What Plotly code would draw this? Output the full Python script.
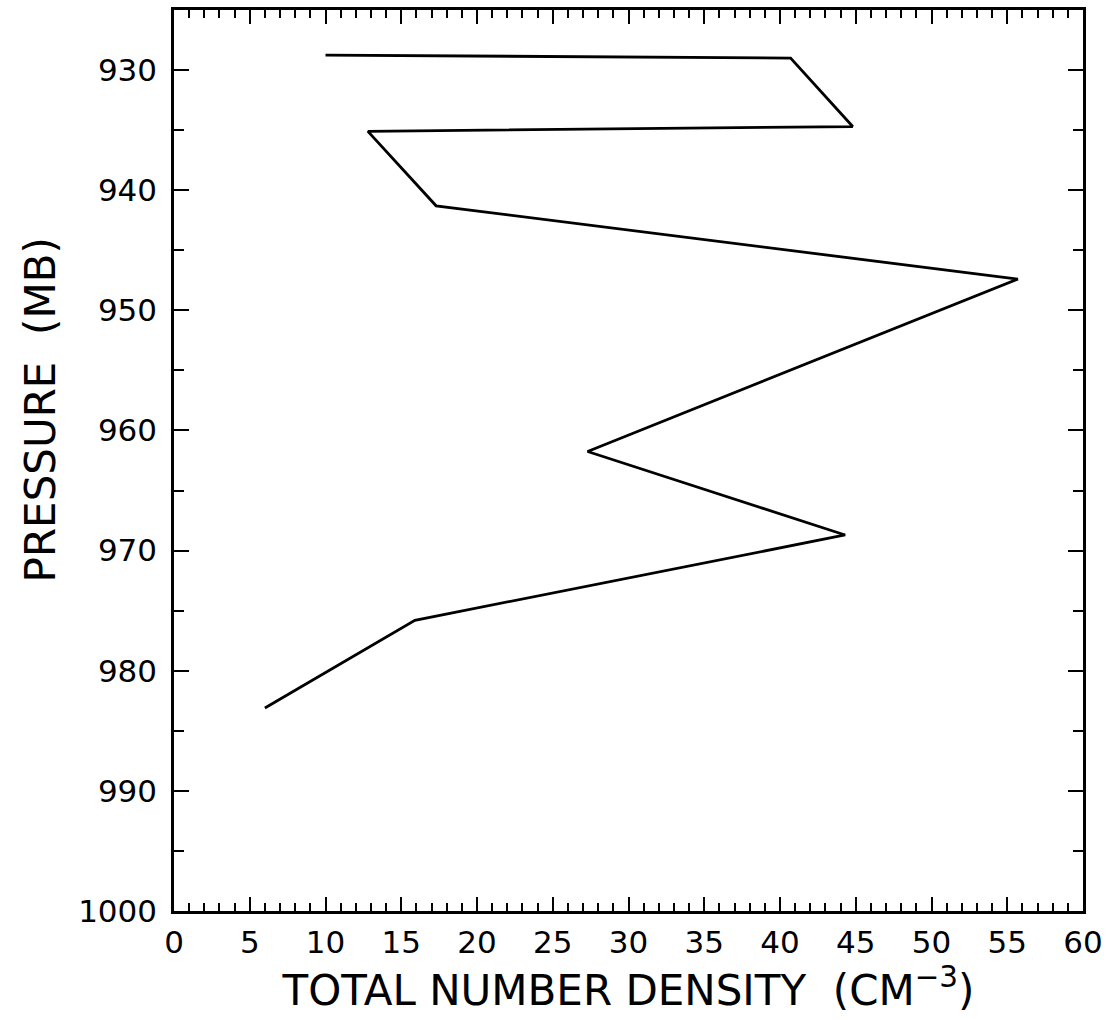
import plotly.graph_objects as go

density = [10.0, 40.7, 44.8, 12.8, 17.3, 55.7, 27.3, 44.3, 15.9, 6.0]
pressure = [928.75, 929.0, 934.7, 935.1, 941.3, 947.4, 961.75, 968.7, 975.8, 983.1]

x_ticks = list(range(0, 61, 5))
y_ticks = list(range(930, 1001, 10))

FONT = "DejaVu Sans"

fig = go.Figure()
fig.add_trace(go.Scatter(x=density, y=pressure, mode="lines",
                         line=dict(color="black", width=2.8), showlegend=False))

fig.update_layout(
    width=1116, height=1020,
    margin=dict(l=174, r=33, t=7, b=109),
    paper_bgcolor="white", plot_bgcolor="white",
    font=dict(family=FONT, color="black"),
    annotations=[dict(
        text="PRESSURE  (MB)", textangle=-90, showarrow=False,
        xref="paper", yref="paper", x=-0.147, y=0.556,
        xanchor="center", yanchor="middle",
        font=dict(size=42, family=FONT, color="black"),
    )],
)
fig.update_xaxes(
    range=[0, 60], tickvals=x_ticks, ticktext=[str(v) for v in x_ticks],
    ticks="inside", ticklen=14, tickwidth=2, tickcolor="black",
    minor=dict(dtick=1, ticks="inside", ticklen=8, tickwidth=1.5, tickcolor="black", showgrid=False),
    showline=True, linecolor="black", linewidth=2.5, mirror="ticks",
    showgrid=False, zeroline=False,
    tickfont=dict(size=31, family=FONT), ticklabelstandoff=2,
    title=dict(text="TOTAL NUMBER DENSITY  (CM<sup>−3</sup>)", font=dict(size=42, family=FONT), standoff=10),
)
fig.update_yaxes(
    range=[1000, 925], tickvals=y_ticks, ticktext=[str(v) for v in y_ticks],
    ticks="inside", ticklen=15, tickwidth=2, tickcolor="black",
    minor=dict(tickvals=list(range(925, 1000, 10)), ticks="inside", ticklen=10, tickwidth=1.5, tickcolor="black", showgrid=False),
    showline=True, linecolor="black", linewidth=2.5, mirror="ticks",
    showgrid=False, zeroline=False,
    tickfont=dict(size=31, family=FONT), ticklabelstandoff=8,
)

fig.write_html("out.html")
